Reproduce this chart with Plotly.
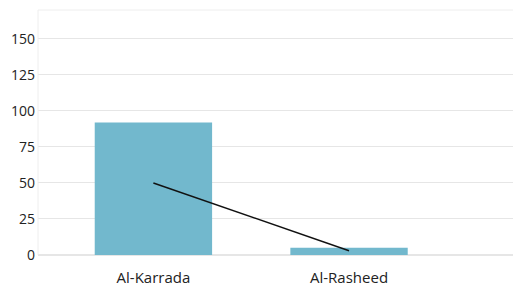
import plotly.graph_objects as go

categories = ["Al-Karrada", "Al-Rasheed"]
bar_values = [92, 5]
line_values = [50, 3]
y_ticks = [0, 25, 50, 75, 100, 125, 150]

fig = go.Figure()
fig.add_trace(go.Bar(x=categories, y=bar_values, marker=dict(color="#72b8cd", line=dict(width=0)),
                     width=0.6, showlegend=False))
fig.add_trace(go.Scatter(x=categories, y=line_values, mode="lines",
                         line=dict(color="#111111", width=1.5), showlegend=False))

fig.update_layout(
    width=521, height=288,
    margin=dict(l=30, r=0, t=2, b=41, autoexpand=False),
    paper_bgcolor="white", plot_bgcolor="white",
    font=dict(family="Open Sans", size=14, color="#333333"),
    xaxis=dict(range=[-0.59, 1.92], showgrid=False, showline=False, ticks="",
               tickfont=dict(size=15, color="#222222"), ticklabelstandoff=12,
               automargin=False),
    yaxis=dict(range=[0, 170], tickvals=y_ticks, showgrid=True, gridcolor="#e6e6e6",
               gridwidth=1, zeroline=True, zerolinecolor="#e6e6e6", showline=False,
               tickfont=dict(size=14, color="#222222"), ticklabelstandoff=2,
               automargin=False),
    shapes=[dict(type="line", xref="paper", yref="paper", x0=0, x1=1, y0=1, y1=1,
                 line=dict(color="#eeeeee", width=1)),
            dict(type="line", xref="paper", yref="paper", x0=0, x1=0, y0=0, y1=1,
                 line=dict(color="#eeeeee", width=1))],
)

fig.write_html("out.html")
